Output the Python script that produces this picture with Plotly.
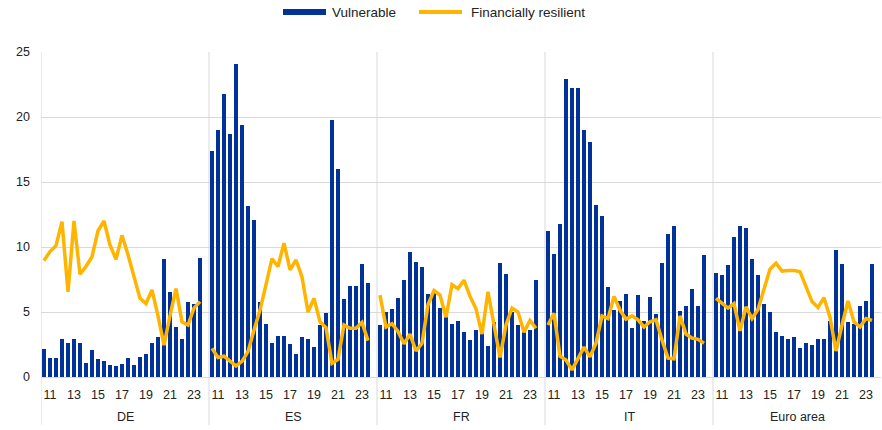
import plotly.graph_objects as go

groups = ["DE", "ES", "FR", "IT", "Euro area"]
tick_labels = ["11", "13", "15", "17", "19", "21", "23"]

vulnerable_DE = [2.15, 1.5, 1.5, 2.95, 2.65, 2.95, 2.6, 1.05, 2.1, 1.4, 1.2, 0.9, 0.85, 1.0,
                 1.45, 0.9, 1.55, 1.75, 2.6, 3.1, 9.1, 6.55, 3.85, 2.95, 5.75, 5.6, 9.15]
vulnerable_ES = [17.4, 19.0, 21.8, 18.7, 24.05, 19.35, 13.15, 12.1, 5.75, 4.1, 2.6, 3.15, 3.15, 2.55,
                 1.75, 3.05, 2.9, 2.3, 4.0, 4.9, 19.75, 16.0, 6.0, 7.0, 7.0, 8.7, 7.2]
vulnerable_FR = [4.0, 4.97, 5.25, 6.05, 7.45, 9.65, 8.85, 8.5, 6.35, 6.5, 5.3, 4.6, 4.1, 4.3,
                 3.45, 2.85, 3.6, 3.85, 2.4, 4.2, 8.8, 7.9, 5.0, 4.0, 3.6, 3.6, 7.45]
vulnerable_IT = [11.25, 9.45, 11.75, 22.9, 22.2, 22.2, 19.0, 18.05, 13.2, 12.4, 6.9, 5.15, 5.85, 6.35,
                 3.75, 6.3, 4.3, 6.15, 4.85, 8.75, 11.0, 11.65, 5.1, 5.5, 6.75, 5.45, 9.4]
vulnerable_EA = [8.0, 7.85, 8.6, 10.8, 11.65, 11.45, 9.1, 7.85, 5.65, 5.0, 3.45, 3.15, 2.9, 3.05,
                 2.2, 2.6, 2.5, 2.95, 2.95, 4.3, 9.75, 8.7, 4.25, 4.05, 5.5, 5.85, 8.7]

resilient_DE = [8.95, 9.65, 10.1, 11.95, 6.55, 12.0, 7.9, 8.5, 9.25, 11.25, 12.0, 10.15, 9.05, 10.9,
                9.4, 7.6, 6.05, 5.65, 6.7, 4.7, 2.45, 4.7, 6.8, 4.25, 4.0, 5.3, 5.8]
resilient_ES = [2.2, 1.5, 1.6, 1.2, 0.85, 1.2, 1.95, 3.6, 5.15, 7.1, 9.1, 8.5, 10.3, 8.25,
                9.0, 7.7, 5.0, 6.05, 4.25, 3.8, 1.05, 1.35, 4.0, 3.75, 3.75, 4.2, 2.8]
resilient_FR = [6.3, 3.85, 4.1, 3.5, 2.55, 3.3, 2.0, 2.6, 5.55, 6.65, 6.3, 4.6, 7.1, 6.8,
                7.45, 6.2, 5.25, 3.3, 6.55, 4.0, 1.5, 4.0, 5.3, 5.0, 3.45, 4.35, 3.75]
resilient_IT = [4.0, 4.9, 1.6, 1.3, 0.55, 1.5, 2.3, 1.55, 2.6, 4.7, 4.5, 6.2, 5.15, 4.45,
                4.7, 4.4, 3.85, 4.25, 4.4, 2.85, 1.45, 1.4, 4.7, 3.3, 3.0, 2.9, 2.6]
resilient_EA = [6.05, 5.65, 5.3, 5.65, 3.55, 5.4, 4.5, 5.2, 6.7, 8.3, 8.75, 8.15, 8.2, 8.2,
                8.1, 6.95, 5.8, 5.35, 6.1, 4.6, 2.0, 4.0, 5.85, 4.25, 3.85, 4.5, 4.35]

vulnerable = [vulnerable_DE, vulnerable_ES, vulnerable_FR, vulnerable_IT, vulnerable_EA]
resilient = [resilient_DE, resilient_ES, resilient_FR, resilient_IT, resilient_EA]

BLUE = "#003299"
YELLOW = "#FFB400"
GRID = "#d9d9d9"
TEXT = "#222222"
FONT = "Liberation Sans, Arial, sans-serif"

SLOT = 28  # 27 periods + one empty slot per group

bx, by, lx, ly = [], [], [], []
for g, (v, r) in enumerate(zip(vulnerable, resilient)):
    for i, val in enumerate(v):
        bx.append(g * SLOT + i)
        by.append(val)
    for i, val in enumerate(r):
        lx.append(g * SLOT + i)
        ly.append(val)
    lx.append(None)
    ly.append(None)

tickvals, ticktext = [], []
for g in range(len(groups)):
    for k, t in enumerate(tick_labels):
        tickvals.append(g * SLOT + 1 + 4 * k)
        ticktext.append(t)

fig = go.Figure()
fig.add_bar(x=bx, y=by, name="Vulnerable", marker=dict(color=BLUE, line=dict(width=0)),
            width=0.74, showlegend=False)
fig.add_scatter(x=lx, y=ly, name="Financially resilient", mode="lines",
                line=dict(color=YELLOW, width=3.5), connectgaps=False, showlegend=False)

shapes = []
for g in range(len(groups)):
    shapes.append(dict(type="line", xref="x", yref="paper", x0=g * SLOT - 0.5, x1=g * SLOT - 0.5,
                       y0=-0.148, y1=1, line=dict(color=GRID, width=1), layer="below"))

annotations = []
for g, name in enumerate(groups):
    annotations.append(dict(x=g * SLOT + 13.5, y=-0.123, xref="x", yref="paper", text=name,
                            showarrow=False, xanchor="center", yanchor="middle",
                            font=dict(family=FONT, size=12.5, color=TEXT)))

# legend drawn at top (paper coordinates)
def px_x(p):
    return (p - 41) / 840.0

def px_y(p):
    return (377 - p) / 325.0

shapes.append(dict(type="rect", xref="paper", yref="paper", x0=px_x(283), x1=px_x(326),
                   y0=px_y(15), y1=px_y(9), fillcolor=BLUE, line=dict(width=0)))
shapes.append(dict(type="line", xref="paper", yref="paper", x0=px_x(419), x1=px_x(462),
                   y0=px_y(12), y1=px_y(12), line=dict(color=YELLOW, width=4)))
annotations.append(dict(x=px_x(330), y=px_y(12), xref="paper", yref="paper", text="Vulnerable",
                        showarrow=False, xanchor="left", yanchor="middle",
                        font=dict(family=FONT, size=13.5, color=TEXT)))
annotations.append(dict(x=px_x(469), y=px_y(12), xref="paper", yref="paper",
                        text="Financially resilient", showarrow=False, xanchor="left",
                        yanchor="middle", font=dict(family=FONT, size=13.5, color=TEXT)))

fig.update_layout(
    width=882, height=430,
    margin=dict(l=41, r=1, t=52, b=53),
    plot_bgcolor="white", paper_bgcolor="white",
    bargap=0,
    shapes=shapes, annotations=annotations,
    font=dict(family=FONT, size=12.5, color=TEXT),
    showlegend=False,
)
fig.update_xaxes(range=[-0.5, SLOT * len(groups) - 0.5], tickvals=tickvals, ticktext=ticktext,
                 showgrid=False, zeroline=False, showline=False, ticks="",
                 ticklabelstandoff=8, tickfont=dict(family=FONT, size=12.5, color=TEXT))
fig.update_yaxes(range=[0, 25], dtick=5, tick0=0, showgrid=True, gridcolor=GRID, gridwidth=1,
                 zeroline=True, zerolinecolor=GRID, zerolinewidth=1, showline=False, ticks="",
                 ticklabelstandoff=10, tickfont=dict(family=FONT, size=12.5, color=TEXT))

fig.write_html("out.html", config={"displayModeBar": False},
               post_script="document.body.style.margin='0';document.body.style.overflow='hidden';")
